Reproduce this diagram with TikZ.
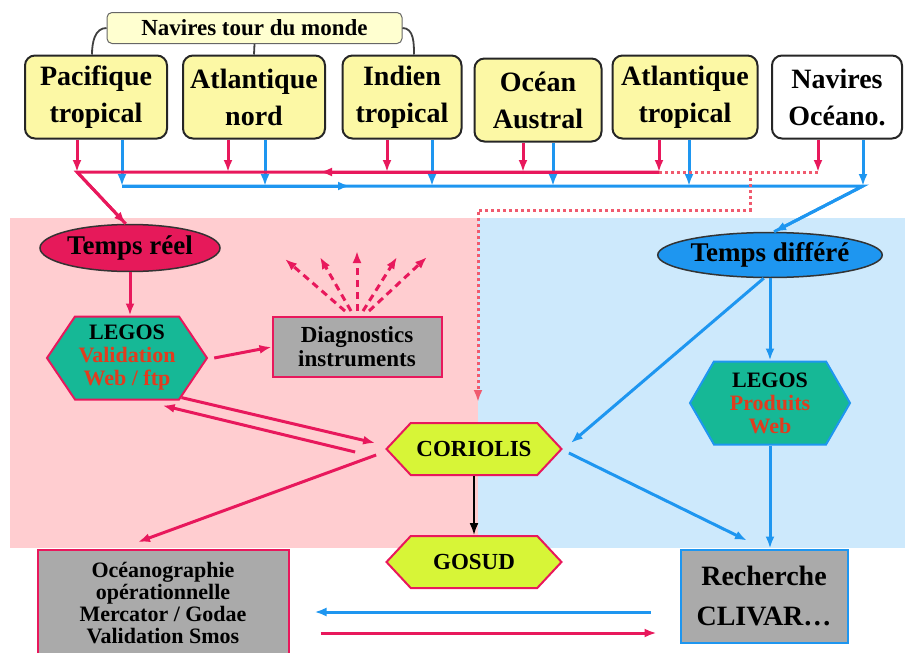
\documentclass[tikz,border=0pt]{standalone}
\usepackage{fontspec}
\setmainfont{Liberation Serif}
\usetikzlibrary{positioning,arrows.meta,calc,shapes.geometric,shapes.symbols}
\definecolor{rline}{RGB}{232,24,92}
\definecolor{bline}{RGB}{30,150,240}
\definecolor{dline}{RGB}{240,90,110}
\definecolor{pinkbg}{RGB}{255,205,208}
\definecolor{bluebg}{RGB}{205,233,252}
\definecolor{seafill}{RGB}{252,248,165}
\definecolor{tourfill}{RGB}{255,255,208}
\definecolor{tealfill}{RGB}{22,184,150}
\definecolor{limefill}{RGB}{215,245,55}
\definecolor{grayfill}{RGB}{170,170,170}
\definecolor{legtext}{RGB}{225,60,30}
\definecolor{realfill}{RGB}{230,25,90}
\definecolor{difffill}{RGB}{30,150,240}
\tikzset{
    >={Latex[length=12pt,width=9pt]},
    sea/.style = {
        draw=black!85,
        fill=seafill,
        rounded corners=10pt,
        line width=2pt,
        minimum height=83pt,
        align=center,
        inner sep=2pt,
        font=\bfseries\fontsize{28}{37}\selectfont
    },
    tour/.style = {
        draw=black!60,
        fill=tourfill,
        rounded corners=5pt,
        line width=1pt,
        minimum width=295pt,
        minimum height=31pt,
        font=\bfseries\fontsize{23}{26}\selectfont
    },
    flow/.style = {
        shape=ellipse,
        draw=black!80,
        line width=1.5pt,
        inner sep=0pt,
        font=\bfseries\fontsize{27}{30}\selectfont
    },
    hex/.style = {
        shape=signal,
        signal to=east and west,
        signal pointer angle=112,
        fill=tealfill,
        line width=2pt,
        minimum width=160pt,
        minimum height=83pt,
        inner sep=0pt,
        align=center,
        font=\bfseries\fontsize{22}{23}\selectfont
    },
    core/.style = {
        shape=signal,
        signal to=east and west,
        signal pointer angle=94,
        fill=limefill,
        draw=rline,
        line width=2pt,
        minimum width=175pt,
        minimum height=52pt,
        inner sep=0pt,
        font=\bfseries\fontsize{23}{26}\selectfont
    },
    panel/.style = {
        shape=rectangle,
        fill=grayfill,
        line width=2pt,
        align=center,
        inner sep=0pt
    },
    redline/.style = {draw, color=rline, line width=3pt},
    blueline/.style = {draw, color=bline, line width=3pt},
    dotline/.style = {draw, color=dline, line width=3pt, dash pattern=on 3pt off 3pt},
    fanline/.style = {draw, color=rline, line width=3pt, dash pattern=on 7pt off 5pt},
    curl/.style = {draw, color=black!75, line width=1.8pt},
}
\begin{document}
\begin{tikzpicture}[x=1pt,y=-1pt]
    \useasboundingbox (0,0) rectangle (905,653);
    \fill[pinkbg] (10,218) rectangle (478,548);
    \fill[bluebg] (478,218) rectangle (905,548);

    \node[tour] (ntm) at (254.5,28) {Navires tour du monde};
    \node[sea, minimum width=142pt] (pac) at (96,97) {Pacifique\\tropical};
    \node[sea, minimum width=142pt] (atln) at (254,97) {Atlantique\\nord};
    \node[sea, minimum width=119pt] (ind) at (402,97) {Indien\\tropical};
    \node[sea, minimum width=127pt] (aus) at (538,100) {Océan\\Austral};
    \node[sea, minimum width=145pt] (atlt) at (685,97) {Atlantique\\tropical};
    \node[sea, minimum width=130pt, fill=white] (nav) at (837,97) {Navires\\Océano.};

    \node[flow, fill=realfill, minimum width=180pt, minimum height=47pt] (treel) at (130,248) {Temps réel};
    \node[flow, fill=difffill, minimum width=204pt, minimum height=45pt] (tdiff) at (770,255) {Temps différé};
    \node[hex, draw=rline] (legv) at (127,358) {LEGOS\\\textcolor{legtext}{Validation}\\\textcolor{legtext}{Web / ftp}};
    \node[hex, draw=bline, signal pointer angle=120] (legp) at (770,403) {LEGOS\\\textcolor{legtext}{Produits}\\\textcolor{legtext}{Web}};
    \node[panel, draw=rline, minimum width=169pt, minimum height=60pt,
        font=\bfseries\fontsize{23}{24}\selectfont] (diag) at (357,347) {Diagnostics\\instruments};
    \node[core] (cor) at (474,449) {CORIOLIS};
    \node[core] (gosud) at (474,562) {GOSUD};
    \node[panel, draw=rline, minimum width=251pt, minimum height=106pt,
        font=\bfseries\fontsize{22}{22}\selectfont] (ocean) at (163,603) {Océanographie\\opérationnelle\\Mercator / Godae\\Validation Smos};
    \node[panel, draw=bline, minimum width=167pt, minimum height=93pt,
        font=\bfseries\fontsize{28}{40}\selectfont] (clivar) at (764,596) {Recherche\\CLIVAR\ldots};

    \coordinate (r0) at (77,172);
    \coordinate (rm) at (320,172);
    \coordinate (r5) at (659,172);
    \coordinate (r6) at (818,172);
    \coordinate (b0) at (122,186);
    \coordinate (bm) at (350,186);
    \coordinate (b6) at (863,186);
    \coordinate (d1) at (750,172);
    \coordinate (d2) at (750,210);
    \coordinate (d3) at (478,210);

    \path[curl] (ntm.west) to[out=180, in=90] ([xshift=-4pt]pac.north);
    \path[curl] (ntm.south) -- (atln.north);
    \path[curl] (ntm.east) to[out=0, in=90] ([xshift=12pt]ind.north);

    \path[redline, ->] ([xshift=-19pt]pac.south) -- (r0);
    \path[redline, ->] ([xshift=-26pt]atln.south) -- ([xshift=-26pt]atln.south |- r0);
    \path[redline, ->] ([xshift=-15pt]ind.south) -- ([xshift=-15pt]ind.south |- r0);
    \path[redline, ->] ([xshift=-15pt]aus.south) -- ([xshift=-15pt]aus.south |- r0);
    \path[redline, ->] ([xshift=-26pt]atlt.south) -- (r5);
    \path[redline, ->] ([xshift=-19pt]nav.south) -- (r6);
    \path[blueline, ->] ([xshift=26pt]pac.south) -- (b0);
    \path[blueline, ->] ([xshift=11pt]atln.south) -- ([xshift=11pt]atln.south |- b0);
    \path[blueline, ->] ([xshift=30pt]ind.south) -- ([xshift=30pt]ind.south |- b0);
    \path[blueline, ->] ([xshift=15pt]aus.south) -- ([xshift=15pt]aus.south |- b0);
    \path[blueline, ->] ([xshift=4pt]atlt.south) -- ([xshift=4pt]atlt.south |- b0);
    \path[blueline, ->] ([xshift=26pt]nav.south) -- (b6);

    \path[redline] (r5) -- (r0) -- (treel.100);
    \path[redline, ->] (r5) -- (rm);
    \path[redline, ->] (r0) -- (treel.100);
    \path[blueline] (b0) -- (b6) -- (tdiff.80);
    \path[blueline, ->] (b0) -- (bm);
    \path[blueline, ->] (b6) -- (tdiff.80);
    \path[dotline] (r6) -- (r5);
    \path[dotline, ->] (d1) -- (d2) -- (d3) -- ([yshift=20pt]d3 |- cor.north);

    \path[redline, ->] (treel.south) -- (treel.south |- legv.north);
    \path[redline, ->] ([xshift=6pt]legv.east) -- (diag.west);
    \path[fanline, ->] ($(diag.north)+(-12,-5)$) -- ($(diag.north)+(-72,-57)$);
    \path[fanline, ->] ($(diag.north)+(-6,-5)$) -- ($(diag.north)+(-37,-59)$);
    \path[fanline, ->] ($(diag.north)+(0,-5)$) -- ($(diag.north)+(0,-65)$);
    \path[fanline, ->] ($(diag.north)+(6,-5)$) -- ($(diag.north)+(40,-59)$);
    \path[fanline, ->] ($(diag.north)+(12,-5)$) -- ($(diag.north)+(70,-59)$);
    \path[redline, ->] (legv.-36) -- ($(cor.west)+(-10,-6)$);
    \path[redline, ->] ($(cor.west)+(-30,3)$) -- ([yshift=-5pt]legv.-50);
    \path[redline, ->] ($(cor.west)+(-9,6)$) -- ($(ocean.north)+(-25,-7)$);

    \path[blueline, ->] (tdiff.south) -- (tdiff.south |- legp.north);
    \path[blueline, ->] (tdiff.255) -- ($(cor.east)+(8,-6)$);
    \path[blueline, ->] ($(cor.east)+(6,4)$) -- ($(clivar.north)+(-17,-8)$);
    \path[blueline, ->] (legp.south) -- (legp.south |- clivar.north);
    \path[draw, line width=1.8pt, ->] (cor.south) -- (gosud.north);

    \path[blueline, ->] ($(clivar.west)+(-29,16)$) -- ($(ocean.east)+(25,9)$);
    \path[redline, ->] ($(ocean.east)+(31,30)$) -- ($(clivar.west)+(-23,37)$);
\end{tikzpicture}
\end{document}
